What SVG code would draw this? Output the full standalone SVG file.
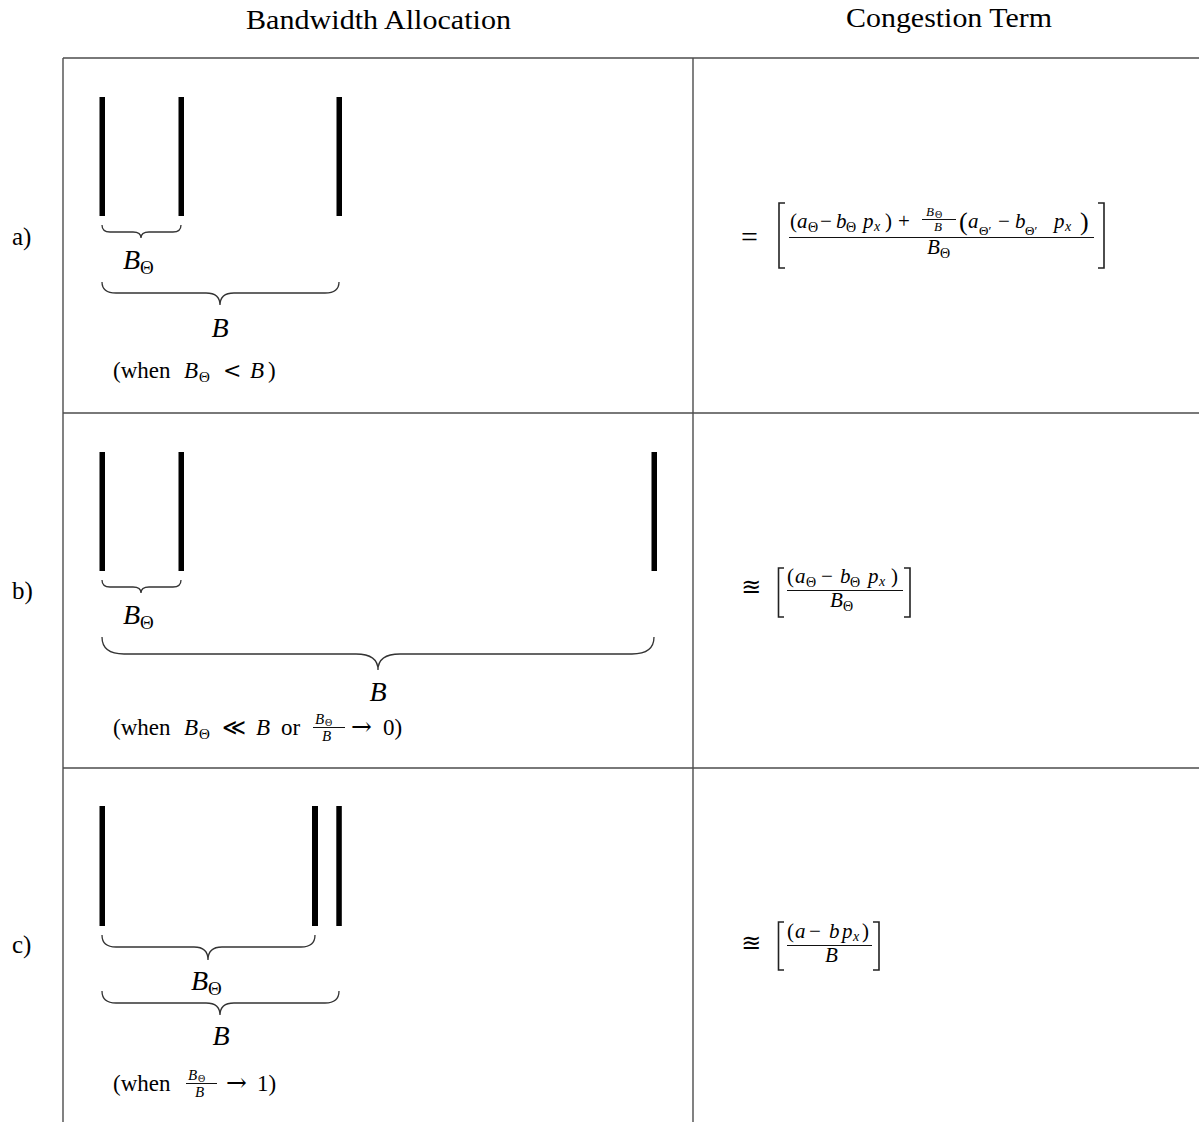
<svg xmlns="http://www.w3.org/2000/svg" width="1199" height="1122" viewBox="0 0 1199 1122">
<style>
text{font-family:"Liberation Serif","DejaVu Serif",serif;fill:#000}
.i{font-style:italic}
.h{font-size:27px}
.m{font-size:21px}
.s{font-size:14px}
.ss{font-size:13px}
.lb{font-size:28px}
.lbs{font-size:19px}
.w{font-size:23px}
.ws{font-size:15px}
.sym{font-family:"DejaVu Serif","DejaVu Sans",serif;font-size:20px}
.arr{font-family:"DejaVu Serif","DejaVu Sans",serif;font-size:25px}
.grid{stroke:#4d4d4d;stroke-width:1.4;fill:none}
.bar{fill:#000}
.brace{stroke:#333;stroke-width:1.3;fill:none}
.frac{stroke:#111;stroke-width:1}
.brk{stroke:#222;stroke-width:1.6;fill:none}
</style>
<rect width="1199" height="1122" fill="#fff"/>
<g id="headers">
<text class="h" x="246" y="29" textLength="265" lengthAdjust="spacingAndGlyphs">Bandwidth Allocation</text>
<text class="h" x="846" y="27" textLength="206" lengthAdjust="spacingAndGlyphs">Congestion Term</text>
<text class="h" x="12" y="245" style="font-size:25px">a)</text>
<text class="h" x="12" y="599" style="font-size:25px">b)</text>
<text class="h" x="12" y="953" style="font-size:25px">c)</text>
</g>
<g id="table">
<path class="grid" d="M63,58 H1199 M63,413 H1199 M63,768 H1199 M63,58 V1122 M693,58 V1122"/>
</g>
<g id="row-a-allocation">
<rect class="bar" x="99.5" y="97" width="5.5" height="119"/>
<rect class="bar" x="178.5" y="97" width="5.5" height="119"/>
<rect class="bar" x="336.5" y="97" width="5.5" height="119"/>
<path class="brace" d="M102,225 Q102,232 110,232 L133,232 Q141,232 141,238 Q141,232 149,232 L173,232 Q181,232 181,225"/>
<path class="brace" d="M102,282 Q102,293 116,293 L206,293 Q220,293 220,305 Q220,293 234,293 L325,293 Q339,293 339,282"/>
<text x="123" y="269"><tspan class="lb i">B</tspan><tspan class="lbs" dy="5">Θ</tspan></text>
<text class="lb i" x="220" y="337" text-anchor="middle">B</text>
<text class="w" y="378"><tspan x="113">(when</tspan><tspan x="184" class="i">B</tspan><tspan x="199" class="ws" dy="4">Θ</tspan><tspan x="223" dy="-4" class="sym" style="font-size:22px">&lt;</tspan><tspan x="250" class="i">B</tspan><tspan x="268">)</tspan></text>
</g>
<g id="row-a-congestion">
<text class="m" x="741" y="247" style="font-size:30px">=</text>
<path class="brk" d="M785,203 H779 V268 H785"/>
<path class="brk" d="M1098,203 H1104 V268 H1098"/>
<text class="m" y="228"><tspan x="790">(</tspan><tspan x="797" class="i">a</tspan><tspan x="808" class="s" dy="4">Θ</tspan><tspan x="820" dy="-4">−</tspan><tspan x="836" class="i">b</tspan><tspan x="846" class="s" dy="4">Θ</tspan><tspan x="863" class="i" dy="-4">p</tspan><tspan x="874" class="s i" dy="3">x</tspan><tspan x="885" dy="-3">)</tspan><tspan x="898">+</tspan></text>
<text y="216"><tspan x="926" class="ss i">B</tspan><tspan x="935" dy="2" style="font-size:10px">Θ</tspan></text>
<line class="frac" x1="922" y1="219.5" x2="956" y2="219.5"/>
<text class="ss i" x="934" y="231">B</text>
<text y="230"><tspan x="959" style="font-size:26px">(</tspan><tspan x="968" class="m i" dy="-2">a</tspan><tspan x="979" class="ss" dy="7">Θ′</tspan><tspan x="998" class="m" dy="-7">−</tspan><tspan x="1015" class="m i">b</tspan><tspan x="1025" class="ss" dy="7">Θ′</tspan><tspan x="1054" class="m i" dy="-7">p</tspan><tspan x="1065" class="s i" dy="3">x</tspan><tspan x="1080" dy="-1" style="font-size:26px">)</tspan></text>
<line class="frac" x1="789" y1="237.5" x2="1094" y2="237.5"/>
<text y="254"><tspan x="927" class="m i">B</tspan><tspan x="940" class="s" dy="4">Θ</tspan></text>
</g>
<g id="row-b-allocation">
<rect class="bar" x="99.5" y="452" width="5.5" height="119"/>
<rect class="bar" x="178.5" y="452" width="5.5" height="119"/>
<rect class="bar" x="651.5" y="452" width="5.5" height="119"/>
<path class="brace" d="M102,580 Q102,587 110,587 L133,587 Q141,587 141,593 Q141,587 149,587 L173,587 Q181,587 181,580"/>
<path class="brace" d="M102,637 Q102,654 124,654 L356,654 Q378,654 378,670 Q378,654 400,654 L632,654 Q654,654 654,637"/>
<text x="123" y="624"><tspan class="lb i">B</tspan><tspan class="lbs" dy="5">Θ</tspan></text>
<text class="lb i" x="378" y="701" text-anchor="middle">B</text>
<text class="w" y="735"><tspan x="113">(when</tspan><tspan x="184" class="i">B</tspan><tspan x="199" class="ws" dy="4">Θ</tspan><tspan x="222" dy="-4" class="sym" style="font-size:23px">≪</tspan><tspan x="256" class="i">B</tspan><tspan x="281">or</tspan><tspan x="351" class="arr">→</tspan><tspan x="383">0)</tspan></text>
<text y="724"><tspan x="315" class="ws i">B</tspan><tspan x="325" dy="2" style="font-size:10px">Θ</tspan></text>
<line class="frac" x1="313" y1="727.5" x2="345" y2="727.5"/>
<text class="ws i" x="322" y="741">B</text>
</g>
<g id="row-b-congestion">
<text x="741" y="595" style="font-family:'DejaVu Serif','DejaVu Sans',serif;font-size:24px">≊</text>
<path class="brk" d="M784,568 H778.5 V617 H784"/>
<path class="brk" d="M904,568 H910 V617 H904"/>
<text class="m" y="583"><tspan x="787">(</tspan><tspan x="795" class="i">a</tspan><tspan x="806" class="s" dy="4">Θ</tspan><tspan x="821" dy="-4">−</tspan><tspan x="840" class="i">b</tspan><tspan x="850" class="s" dy="4">Θ</tspan><tspan x="868" class="i" dy="-4">p</tspan><tspan x="879" class="s i" dy="3">x</tspan><tspan x="891" dy="-3">)</tspan></text>
<line class="frac" x1="787" y1="590.5" x2="903" y2="590.5"/>
<text y="607"><tspan x="830" class="m i">B</tspan><tspan x="843" class="s" dy="4">Θ</tspan></text>
</g>
<g id="row-c-allocation">
<rect class="bar" x="99.5" y="806" width="5.5" height="120"/>
<rect class="bar" x="312" y="806" width="6" height="120"/>
<rect class="bar" x="336.3" y="806" width="5.5" height="120"/>
<path class="brace" d="M102,935 Q102,947 116,947 L194,947 Q208,947 208,960 Q208,947 222,947 L301,947 Q315,947 315,935"/>
<path class="brace" d="M102,991 Q102,1003 116,1003 L206,1003 Q220,1003 220,1015 Q220,1003 234,1003 L325,1003 Q339,1003 339,991"/>
<text x="191" y="990"><tspan class="lb i">B</tspan><tspan class="lbs" dy="5">Θ</tspan></text>
<text class="lb i" x="221" y="1045" text-anchor="middle">B</text>
<text class="w" y="1091"><tspan x="113">(when</tspan><tspan x="226" class="arr">→</tspan><tspan x="257">1)</tspan></text>
<text y="1080"><tspan x="188" class="ws i">B</tspan><tspan x="198" dy="2" style="font-size:10px">Θ</tspan></text>
<line class="frac" x1="186" y1="1083.5" x2="217" y2="1083.5"/>
<text class="ws i" x="195" y="1097">B</text>
</g>
<g id="row-c-congestion">
<text x="741" y="951" style="font-family:'DejaVu Serif','DejaVu Sans',serif;font-size:24px">≊</text>
<path class="brk" d="M784,922 H778.5 V970 H784"/>
<path class="brk" d="M873,922 H879 V970 H873"/>
<text class="m" y="938"><tspan x="787">(</tspan><tspan x="795" class="i">a</tspan><tspan x="809">−</tspan><tspan x="829" class="i">b</tspan><tspan x="842" class="i">p</tspan><tspan x="853" class="s i" dy="3">x</tspan><tspan x="862" dy="-3">)</tspan></text>
<line class="frac" x1="787" y1="945.5" x2="872" y2="945.5"/>
<text class="m i" x="825" y="962">B</text>
</g>
</svg>
